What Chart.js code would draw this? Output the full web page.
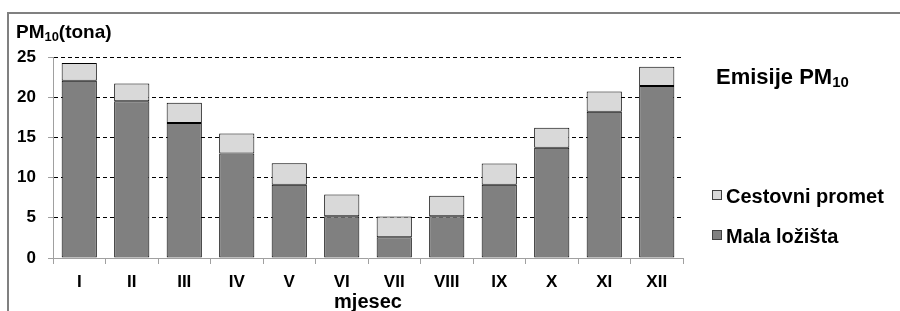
<!DOCTYPE html>
<html>
<head>
<meta charset="utf-8">
<script src="https://cdn.jsdelivr.net/npm/chart.js@4.4.1/dist/chart.umd.min.js"></script>
<style>
  html, body { margin: 0; padding: 0; background: #fff; }
  body { width: 900px; height: 311px; position: relative; overflow: hidden; font-family: "Liberation Sans", Arial, sans-serif; font-weight: bold; }
  #frame { position: absolute; left: 7px; top: 12px; width: 900px; height: 310px; border-top: 2px solid #808080; border-left: 2px solid #808080; }
  canvas { position: absolute; left: 0; top: 0; }
  .lbl { position: absolute; color: #000; white-space: nowrap; }
  .lbl sub { font-size: 0.68em; vertical-align: -0.22em; line-height: 0; }
  .box { position: absolute; width: 8px; height: 8px; border: 1px solid #404040; }
</style>
</head>
<body>
<div id="frame"></div>
<canvas id="pmChart" width="900" height="311"></canvas>
<div class="lbl" style="left:16px; top:21px; font-size:19px;">PM<sub>10</sub>(tona)</div>
<div class="lbl" style="left:716px; top:64px; font-size:22px;">Emisije PM<sub>10</sub></div>
<div id="legend"></div>
<script>
const months = ['I', 'II', 'III', 'IV', 'V', 'VI', 'VII', 'VIII', 'IX', 'X', 'XI', 'XII'];
const malaLozista = [22.05, 19.5, 16.8, 13.0, 9.1, 5.2, 2.57, 5.2, 9.1, 13.7, 18.2, 21.4];
const cestovniPromet = [2.2, 2.2, 2.5, 2.5, 2.7, 2.7, 2.6, 2.55, 2.65, 2.5, 2.5, 2.4];
const yTicks = [0, 5, 10, 15, 20, 25];

const fontFamily = '"Liberation Sans", Arial, sans-serif';

// legend drawn as html, top entry first like the original
const legendItems = [
    { label: 'Cestovni promet', color: '#d9d9d9', top: 185, boxTop: 190 },
    { label: 'Mala ložišta', color: '#808080', top: 225, boxTop: 230 }
];
const legend = document.getElementById('legend');
legendItems.forEach(item => {
    const box = document.createElement('div');
    box.className = 'box';
    box.style.left = '712px';
    box.style.top = item.boxTop + 'px';
    box.style.background = item.color;
    legend.appendChild(box);
    const txt = document.createElement('div');
    txt.className = 'lbl';
    txt.style.left = '726px';
    txt.style.top = item.top + 'px';
    txt.style.fontSize = '20px';
    txt.textContent = item.label;
    legend.appendChild(txt);
});

const ctx = document.getElementById('pmChart').getContext('2d');
new Chart(ctx, {
    type: 'bar',
    data: {
        labels: months,
        datasets: [
            {
                label: 'Mala ložišta',
                data: malaLozista,
                backgroundColor: '#808080',
                borderColor: '#000',
                borderWidth: 1,
                borderSkipped: false,
                barPercentage: 0.67,
                categoryPercentage: 1
            },
            {
                label: 'Cestovni promet',
                data: cestovniPromet,
                backgroundColor: '#d9d9d9',
                borderColor: '#000',
                borderWidth: 1,
                borderSkipped: false,
                barPercentage: 0.67,
                categoryPercentage: 1
            }
        ]
    },
    options: {
        responsive: false,
        animation: false,
        events: [],
        layout: { padding: { left: 0, right: 217, top: 57, bottom: 0 } },
        plugins: {
            legend: { display: false },
            tooltip: { enabled: false }
        },
        scales: {
            x: {
                stacked: true,
                grid: {
                    offset: true,
                    drawOnChartArea: false,
                    drawTicks: true,
                    tickLength: 6,
                    tickColor: '#a0a0a0'
                },
                border: { color: '#a0a0a0', width: 1 },
                ticks: { color: '#000', font: { family: fontFamily, weight: 'bold', size: 17 }, padding: 8 },
                title: {
                    display: true,
                    text: 'mjesec',
                    color: '#000',
                    font: { family: fontFamily, weight: 'bold', size: 20 },
                    padding: { top: 0, bottom: -3 }
                },
                afterFit: function (scale) { scale.height = 53; }
            },
            y: {
                stacked: true,
                min: 0,
                max: 25,
                afterBuildTicks: function (scale) {
                    scale.ticks = yTicks.map(v => ({ value: v }));
                },
                grid: {
                    color: function (c) { return c.tick && c.tick.value === 0 ? 'rgba(0,0,0,0)' : '#000'; },
                    tickColor: '#a0a0a0',
                    tickLength: 5,
                    drawTicks: true
                },
                border: { color: '#a0a0a0', width: 1, dash: [4, 3] },
                ticks: { color: '#000', font: { family: fontFamily, weight: 'bold', size: 17 }, padding: 12 },
                afterFit: function (scale) { scale.width = 53; }
            }
        }
    }
});
</script>
</body>
</html>
